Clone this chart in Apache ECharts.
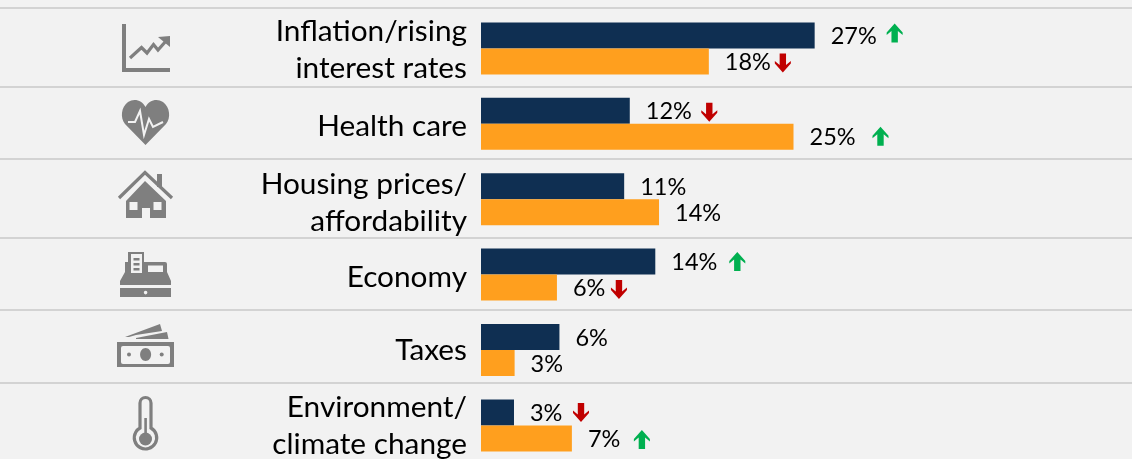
<!DOCTYPE html>
<html>
<head>
<meta charset="utf-8">
<style>
  html, body { margin: 0; padding: 0; background: #f2f2f2; }
  #main { width: 1132px; height: 459px; }
</style>
<script src="https://cdn.jsdelivr.net/npm/echarts@6/dist/echarts.min.js"></script>
</head>
<body>
<div id="main"></div>
<script>
// Values
const categories = [
  "Inflation/rising\ninterest rates",
  "Health care",
  "Housing prices/\naffordability",
  "Economy",
  "Taxes",
  "Environment/\nclimate change",
];
const navyValues = [26.8, 11.95, 11.5, 14, 6.3, 2.65];
const orangeValues = [18.3, 25.1, 14.3, 6.1, 2.7, 7.3];
const navyLabels = ["27%", "12%", "11%", "14%", "6%", "3%"];
const orangeLabels = ["18%", "25%", "14%", "6%", "3%", "7%"];
// 1 = up arrow, -1 = down arrow, 0 = none
const navyTrend = [1, -1, 0, 1, 0, -1];
const orangeTrend = [-1, 1, 0, -1, 0, 1];

const NAVY = "#0f2f52";
const ORANGE = "#ff9f1e";
const GREY = "#7f7f7f";
const BG = "#f2f2f2";
const FONT = "Lato";

// category labels do not sit at the same height in every row,
// a thin spacer line above the text pushes them down by half its height
const categorySpacer = [2, 6, 8, 6, 0, 0];

// arrow placement relative to the bar end, it differs per label
const navyArrowGap = [80, 79.5, 0, 82, 0, 67];
const orangeArrowGap = [74, 87, 0, 62, 0, 70];
const navyArrowNudge = [-2.5, 1.5, 0, 0, 0, 0];
const orangeArrowNudge = [1.5, -0.5, 0, 2, 0, 1];

const arrowData = [];
categories.forEach((c, i) => {
  if (navyTrend[i]) arrowData.push([navyValues[i], i, -13 + navyArrowNudge[i], navyTrend[i], navyArrowGap[i]]);
  if (orangeTrend[i]) arrowData.push([orangeValues[i], i, 13 + orangeArrowNudge[i], orangeTrend[i], orangeArrowGap[i]]);
});

function renderArrow(params, api) {
  const p = api.coord([api.value(0), api.value(1)]);
  const x = p[0] + api.value(4);
  const y = p[1] + api.value(2);
  const d = api.value(3); // up or down
  const tip = y - d * 9.5;
  const end = y + d * 9.5;
  // swept back head like the original arrows
  return {
    type: "polygon",
    shape: {
      points: [
        [x, tip], [x + 8, tip + d * 9], [x + 8, tip + d * 11.5], [x + 3.2, tip + d * 7.5],
        [x + 3.2, end], [x - 3.2, end], [x - 3.2, tip + d * 7.5], [x - 8, tip + d * 11.5], [x - 8, tip + d * 9],
      ],
    },
    style: { fill: d > 0 ? "#00b050" : "#c00000" },
  };
}

// separators between the rows
const separators = [8, 87, 159, 238, 310, 383].map((y) => ({
  type: "line",
  shape: { x1: 0, y1: y, x2: 1132, y2: y },
  style: { stroke: "#c9c9c9", lineWidth: 1.5 },
  silent: true,
}));

// graphic elements have no pathData, so register each svg path as a shape
let shapeCount = 0;
function svgPath(d, style) {
  const name = "iconPath" + shapeCount++;
  echarts.graphic.registerShape(name, echarts.graphic.extendPath(d));
  return { type: name, style: style };
}

const grey = { fill: GREY };
const hole = { fill: BG };
const icons = [
  // line chart
  svgPath("M122 24H126V68H170V72H122Z", grey),
  { type: "polyline", shape: { points: [[130, 58], [141.5, 47.5], [147, 53], [153.5, 44.5], [158, 50], [166, 41]] }, style: { stroke: GREY, lineWidth: 3.2, fill: null } },
  svgPath("M158 37L170 36V47Z", grey),
  // heart
  svgPath("M145.5 145L125 124C120 118 121 107 128 102C134 98 142 100 145.5 107C149 100 157 98 163 102C170 107 171 118 166 124Z", grey),
  { type: "polyline", shape: { points: [[128, 122], [135, 122], [140, 111], [144, 135], [149, 119], [153, 127], [163, 122]] }, style: { stroke: BG, lineWidth: 2, fill: null } },
  // house
  { type: "polyline", shape: { points: [[119, 198], [145, 172.5], [172, 198]] }, style: { stroke: GREY, lineWidth: 3.2, fill: null } },
  { type: "rect", shape: { x: 157, y: 174, width: 5, height: 13 }, style: grey },
  svgPath("M145 181L166 201V218H150V208H142V218H126V201Z", grey),
  { type: "rect", shape: { x: 129.5, y: 202, width: 8, height: 8 }, style: hole },
  { type: "rect", shape: { x: 153.5, y: 202, width: 8, height: 8 }, style: hole },
  // cash register
  svgPath("M128 252H144V262H165Q167 262 167 264V272L171 281V285H120V281L125 272V262H128Z", grey),
  { type: "rect", shape: { x: 131, y: 254, width: 11, height: 19 }, style: hole },
  { type: "rect", shape: { x: 133.5, y: 258, width: 6, height: 2.5 }, style: grey },
  { type: "rect", shape: { x: 133.5, y: 263, width: 6, height: 2.5 }, style: grey },
  { type: "rect", shape: { x: 133.5, y: 268, width: 6, height: 2.5 }, style: grey },
  { type: "rect", shape: { x: 148, y: 265.5, width: 15, height: 6.5 }, style: hole },
  { type: "rect", shape: { x: 120, y: 288, width: 51, height: 9 }, style: grey },
  { type: "circle", shape: { cx: 145.6, cy: 292.6, r: 1.8 }, style: hole },
  // banknotes
  { type: "rect", shape: { x: 117, y: 342, width: 57, height: 25 }, style: grey },
  { type: "rect", shape: { x: 121, y: 346, width: 49, height: 18, r: 2 }, style: hole },
  { type: "ellipse", shape: { cx: 145.6, cy: 354.5, rx: 5.5, ry: 6.5 }, style: grey },
  { type: "circle", shape: { cx: 129, cy: 354.5, r: 2 }, style: grey },
  { type: "circle", shape: { cx: 161.7, cy: 354.5, r: 2 }, style: grey },
  svgPath("M125 337L160 324L162 331L136 335L129 337Z", grey),
  svgPath("M136 338L167 332L168.5 339H136Z", grey),
  // thermometer
  svgPath("M140 428V403A5.5 5.5 0 0 1 151 403V428A11.2 11.2 0 1 1 140 428Z", { stroke: GREY, lineWidth: 3.2, fill: BG }),
  { type: "circle", shape: { cx: 145.5, cy: 439, r: 6.5 }, style: grey },
  { type: "rect", shape: { x: 144.3, y: 418, width: 2.6, height: 20 }, style: grey },
];

const barLabel = (texts) => ({
  show: true,
  position: "right",
  distance: 16,
  offset: [0, 1],
  fontFamily: FONT,
  fontSize: 23.5,
  color: "#000",
  formatter: (p) => texts[p.dataIndex],
});

const richStyles = { t: { fontFamily: FONT, fontSize: 29.8, lineHeight: 37, color: "#000" } };
categorySpacer.forEach((h, i) => {
  richStyles["s" + i] = { fontSize: 1, lineHeight: h };
});

function categoryLabel(value, index) {
  const lines = value.split("\n").map((l) => "{t|" + l + "}");
  if (categorySpacer[index]) lines.unshift("{s" + index + "| }");
  return lines.join("\n");
}

let myChart = echarts.init(document.getElementById("main"));
let options = {
  backgroundColor: BG,
  animation: false,
  // the last row runs past the window, keep echarts from shrinking the grid
  grid: { left: 481, top: 10.7, width: 622.5, height: 452.4, outerBoundsMode: "none" },
  xAxis: { type: "value", min: 0, max: 50, show: false },
  yAxis: {
    type: "category",
    inverse: true,
    data: categories,
    axisLine: { show: false },
    axisTick: { show: false },
    axisLabel: {
      margin: 14,
      formatter: categoryLabel,
      rich: richStyles,
    },
  },
  series: [
    {
      name: "navy",
      type: "bar",
      data: navyValues,
      barWidth: 26,
      barGap: 0,
      itemStyle: { color: NAVY },
      label: barLabel(navyLabels),
    },
    {
      name: "orange",
      type: "bar",
      data: orangeValues,
      barWidth: 26,
      barGap: 0,
      itemStyle: { color: ORANGE },
      label: barLabel(orangeLabels),
    },
    {
      name: "trend",
      type: "custom",
      data: arrowData,
      encode: { x: 0, y: 1 },
      clip: false,
      silent: true,
      renderItem: renderArrow,
    },
  ],
  graphic: { elements: separators.concat(icons) },
};
myChart.setOption(options);
</script>
</body>
</html>
